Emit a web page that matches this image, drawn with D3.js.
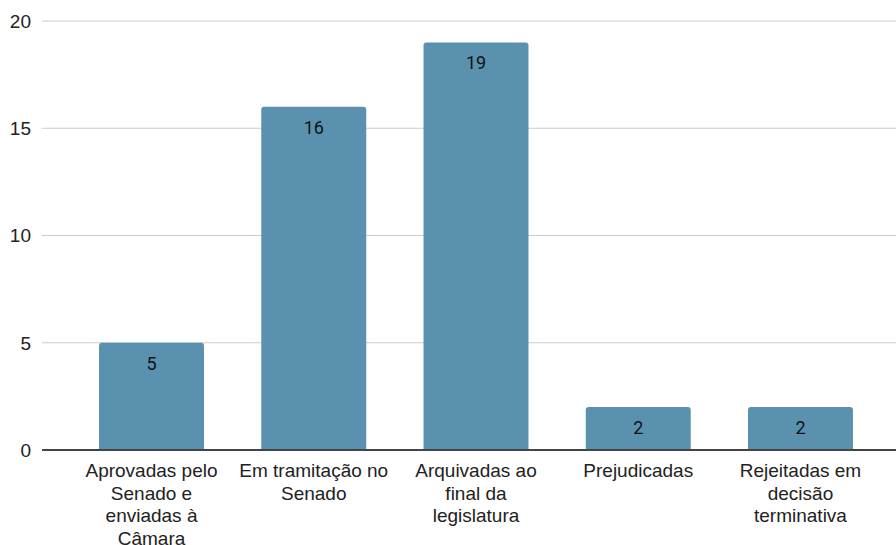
<!DOCTYPE html>
<html>
<head>
<meta charset="utf-8">
<script src="https://cdn.jsdelivr.net/npm/d3@7"></script>
<style>
  html, body { margin: 0; padding: 0; background: #fff; }
  svg { display: block; }
</style>
</head>
<body>
<svg id="chart" width="896" height="545"></svg>
<script>
// Categories (line breaks where the axis label wraps)
const categories = [
  "Aprovadas pelo\nSenado e\nenviadas à\nCâmara",
  "Em tramitação no\nSenado",
  "Arquivadas ao\nfinal da\nlegislatura",
  "Prejudicadas",
  "Rejeitadas em\ndecisão\nterminativa"
];
const values = [5, 16, 19, 2, 2];
const yTicks = [0, 5, 10, 15, 20];

const svg = d3.select("#chart");
const plot = { left: 42, right: 896, top: 21, bottom: 450 };
const bandLeft = 70.4, bandRight = 881.6;
const labelFont = "'Liberation Sans', Arial, sans-serif";

const x = d3.scaleBand()
  .domain(categories)
  .range([bandLeft, bandRight])
  .paddingInner(0.353)
  .paddingOuter(0.1765);

const y = d3.scaleLinear().domain([0, 20]).range([plot.bottom, plot.top]);

// Gridlines
svg.append("g")
  .selectAll("line")
  .data(yTicks.filter(d => d !== 0))
  .join("line")
  .attr("x1", plot.left).attr("x2", plot.right)
  .attr("y1", d => y(d)).attr("y2", d => y(d))
  .attr("stroke", "#cccccc").attr("stroke-width", 1);

// Y tick labels
svg.append("g")
  .selectAll("text")
  .data(yTicks)
  .join("text")
  .attr("x", 31)
  .attr("y", d => y(d))
  .attr("dy", "0.36em")
  .attr("text-anchor", "end")
  .attr("font-family", labelFont)
  .attr("font-size", 19)
  .attr("fill", "#222")
  .text(d => d);

// Bars with rounded top corners
const r = 3;
function barPath(x0, w, yTop, yBase) {
  return `M${x0},${yBase} V${yTop + r} Q${x0},${yTop} ${x0 + r},${yTop} H${x0 + w - r} Q${x0 + w},${yTop} ${x0 + w},${yTop + r} V${yBase} Z`;
}
svg.append("g")
  .selectAll("path")
  .data(categories)
  .join("path")
  .attr("d", (c, i) => barPath(x(c), x.bandwidth(), y(values[i]), y(0)))
  .attr("fill", "#5a91ae");

// Value labels inside bars
svg.append("g")
  .selectAll("text")
  .data(categories)
  .join("text")
  .attr("x", c => x(c) + x.bandwidth() / 2)
  .attr("y", (c, i) => y(values[i]) + 20.5)
  .attr("dy", "0.36em")
  .attr("text-anchor", "middle")
  .attr("font-family", "Roboto, sans-serif")
  .attr("font-size", 18)
  .attr("fill", "#111")
  .text((c, i) => values[i]);

// Baseline
svg.append("line")
  .attr("x1", plot.left).attr("x2", plot.right)
  .attr("y1", y(0)).attr("y2", y(0))
  .attr("stroke", "#444").attr("stroke-width", 2);

// Category labels
const lab = svg.append("g")
  .selectAll("text")
  .data(categories)
  .join("text")
  .attr("text-anchor", "middle")
  .attr("font-family", labelFont)
  .attr("font-size", 19)
  .attr("fill", "#222");
lab.each(function(c) {
  const t = d3.select(this);
  c.split("\n").forEach((line, k) => {
    t.append("tspan")
      .attr("x", x(c) + x.bandwidth() / 2)
      .attr("y", 477 + k * 22.6)
      .text(line);
  });
});
</script>
</body>
</html>
